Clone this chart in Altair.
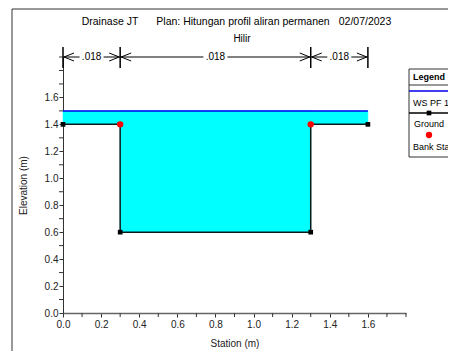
import altair as alt
import pandas as pd

# ---- data ----
stations = [0.0, 0.3, 0.3, 1.3, 1.3, 1.6]
ground = [1.4, 1.4, 0.6, 0.6, 1.4, 1.4]
ws_elev = 1.5
bank_sta = [0.3, 1.3]
bank_elev = [1.4, 1.4]
n_start = [0.0, 0.3, 1.3]
n_end = [0.3, 1.3, 1.6]
n_mid = [0.15, 0.8, 1.45]
n_label = [".018", ".018", ".018"]
n_bounds = [0.0, 0.3, 1.3, 1.6]
x_labels = [0.0, 0.2, 0.4, 0.6, 0.8, 1.0, 1.2, 1.4, 1.6]
y_labels = [0.0, 0.2, 0.4, 0.6, 0.8, 1.0, 1.2, 1.4, 1.6]
x_minor = [0.1, 0.3, 0.5, 0.7, 0.9, 1.1, 1.3, 1.5, 1.7, 1.8]
y_minor = [0.1, 0.3, 0.5, 0.7, 0.9, 1.1, 1.3, 1.5, 1.7, 1.8, 1.9]

FONT = "Liberation Sans"
W, H = 343, 256

prof = pd.DataFrame({"idx": list(range(len(stations))), "sta": stations, "elev": ground})
banks = pd.DataFrame({"sta": bank_sta, "elev": bank_elev})
water_df = pd.DataFrame({
    "x1": [min(stations), min(bank_sta)],
    "x2": [max(stations), max(bank_sta)],
    "y1": [min(bank_elev), min(ground)],
    "y2": [ws_elev, ws_elev],
})
ws_df = pd.DataFrame({"sta": [min(stations), max(stations)], "ws": [ws_elev, ws_elev]})
nseg = pd.DataFrame({"s": n_start, "e": n_end, "m": n_mid, "lab": n_label})
nb = pd.DataFrame({"b": n_bounds})
xmin_df = pd.DataFrame({"t": x_minor})
ymin_df = pd.DataFrame({"t": y_minor})
one = pd.DataFrame({"a": [0]})

xs = alt.Scale(domain=[0, 1.8], nice=False, zero=False)
ys = alt.Scale(domain=[0, 1.9], nice=False, zero=False)

AX = alt.Axis(title="Station (m)", values=x_labels, format=".1f",
              labelOverlap=False, labelFlush=False, tickSize=4,
              labelPadding=2, titlePadding=9,
              domainColor="#666", domainWidth=1.5)
AY = alt.Axis(title="Elevation (m)", values=y_labels, format=".1f",
              labelOverlap=False, labelFlush=False, tickSize=4,
              labelPadding=1, titlePadding=16)


def XX(field):
    return alt.X(field, scale=xs, axis=AX)


def YY(field):
    return alt.Y(field, scale=ys, axis=AY)


water = alt.Chart(water_df).mark_rect(color="#00FFFF", opacity=1, stroke="#00FFFF",
                                      strokeWidth=0.5).encode(
    x=XX("x1:Q"), x2="x2:Q", y=YY("y1:Q"), y2="y2:Q")
wsline = alt.Chart(ws_df).mark_line(color="#0000EE", strokeWidth=1.5).encode(
    x=XX("sta:Q"), y=YY("ws:Q"))
gline = alt.Chart(prof).mark_line(color="#0a1a1a", strokeWidth=1.5).encode(
    x=XX("sta:Q"), y=YY("elev:Q"), order="idx:Q")
gpts = alt.Chart(prof).mark_point(shape="square", filled=True, color="black",
                                  size=22, opacity=1).encode(x=XX("sta:Q"), y=YY("elev:Q"))
bpts = alt.Chart(banks).mark_point(shape="circle", filled=True, color="#FF0000",
                                   size=40, opacity=1).encode(x=XX("sta:Q"), y=YY("elev:Q"))

# minor ticks
xminor = alt.Chart(xmin_df).mark_rule(color="#333", strokeWidth=1).encode(
    x=XX("t:Q"), y=alt.value(H), y2=alt.value(H + 4))
yminor = alt.Chart(ymin_df).mark_rule(color="#333", strokeWidth=1).encode(
    y=YY("t:Q"), x=alt.value(-4), x2=alt.value(0))

# Manning n dimension lines
left_piece = alt.Chart(nseg).mark_rule(color="black", x2Offset=-12).encode(
    x=XX("s:Q"), x2=alt.X2("m"), y=alt.value(0))
right_piece = alt.Chart(nseg).mark_rule(color="black", xOffset=12).encode(
    x=XX("m:Q"), x2=alt.X2("e"), y=alt.value(0))
nlab = alt.Chart(nseg).mark_text(font=FONT, fontSize=10, color="black").encode(
    x=XX("m:Q"), y=alt.value(0), text="lab:N")
bars = alt.Chart(nb).mark_rule(color="black", strokeWidth=1.5).encode(
    x=XX("b:Q"), y=alt.value(-10), y2=alt.value(11))
arr_l = alt.Chart(nseg).mark_point(shape="M0,0L2.5,-1M0,0L2.5,1", filled=False,
                                   color="black", size=64, opacity=1, strokeWidth=1,
                                   xOffset=1).encode(x=XX("s:Q"), y=alt.value(0))
arr_r = alt.Chart(nseg).mark_point(shape="M0,0L-2.5,-1M0,0L-2.5,1", filled=False,
                                   color="black", size=64, opacity=1, strokeWidth=1,
                                   xOffset=-1).encode(x=XX("e:Q"), y=alt.value(0))


def txt(s, px, py, align="center", weight="normal", size=10):
    return alt.Chart(one).mark_text(font=FONT, fontSize=size, color="black",
                                    align=align, fontWeight=weight).encode(
        x=alt.value(px), y=alt.value(py), text=alt.value(s))


def hline(px1, px2, py, color, sw=1.0):
    return alt.Chart(one).mark_rule(color=color, strokeWidth=sw).encode(
        x=alt.value(px1), x2=alt.value(px2), y=alt.value(py))


frame = alt.Chart(one).mark_rect(filled=False, stroke="#333333", strokeWidth=1).encode(
    x=alt.value(-51), x2=alt.value(420), y=alt.value(-48), y2=alt.value(320))
legbox = alt.Chart(one).mark_rect(filled=False, stroke="#333333", strokeWidth=1).encode(
    x=alt.value(346), x2=alt.value(420), y=alt.value(12), y2=alt.value(100))
leg_sq = alt.Chart(one).mark_point(shape="square", filled=True, color="black",
                                   size=22, opacity=1).encode(
    x=alt.value(366), y=alt.value(56))
leg_dot = alt.Chart(one).mark_point(shape="circle", filled=True, color="#FF0000",
                                    size=40, opacity=1).encode(
    x=alt.value(366), y=alt.value(78))

chart = alt.layer(
    frame,
    water, wsline, gline, gpts, bpts,
    xminor, yminor,
    left_piece, right_piece, nlab, bars, arr_l, arr_r,
    txt("Drainase JT", 47, -35, size=10.5),
    txt("Plan: Hitungan profil aliran permanen", 180, -35, size=10.5),
    txt("02/07/2023", 302, -35, size=10.5),
    txt("Hilir", 179, -18),
    legbox,
    txt("Legend", 350, 20, align="left", weight="bold", size=9),
    hline(346, 420, 28, "#333333"),
    hline(346, 420, 34, "#0000EE", 1.5),
    txt("WS PF 1", 350, 46, align="left", size=9),
    hline(346, 420, 56, "black", 1.5),
    leg_sq,
    txt("Ground", 351, 67, align="left", size=9),
    leg_dot,
    txt("Bank Stations", 350, 90, align="left", size=9),
).properties(
    width=W, height=H,
    autosize=alt.AutoSizeParams(type="none"),
    padding={"left": 55, "top": 49, "right": 42, "bottom": 38},
).configure_view(stroke=None).configure_axis(
    grid=False, labelFont=FONT, labelFontSize=10, labelColor="#222",
    titleFont=FONT, titleFontSize=10, titleFontWeight="normal", titleColor="#222",
    domainColor="#333", tickColor="#333", labelOverlap=False,
)

chart.save("out.html", embed_options={"renderer": "svg", "actions": False})
